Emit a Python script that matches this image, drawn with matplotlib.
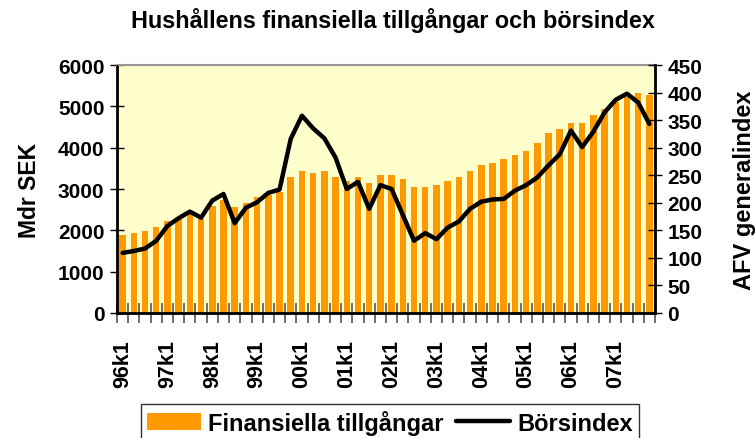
import matplotlib
matplotlib.use("Agg")
import matplotlib.pyplot as plt
import numpy as np

quarters = ["96k1","96k2","96k3","96k4","97k1","97k2","97k3","97k4",
            "98k1","98k2","98k3","98k4","99k1","99k2","99k3","99k4",
            "00k1","00k2","00k3","00k4","01k1","01k2","01k3","01k4",
            "02k1","02k2","02k3","02k4","03k1","03k2","03k3","03k4",
            "04k1","04k2","04k3","04k4","05k1","05k2","05k3","05k4",
            "06k1","06k2","06k3","06k4","07k1","07k2","07k3","07k4"]
tick_labels = ["96k1","97k1","98k1","99k1","00k1","01k1","02k1","03k1",
               "04k1","05k1","06k1","07k1"]
assets = [1890,1940,1980,2080,2230,2290,2420,2270,2600,2730,2570,2660,
          2810,2860,2920,3290,3440,3390,3440,3290,3190,3290,3150,3340,
          3340,3240,3050,3050,3100,3190,3290,3440,3580,3630,3730,3820,
          3920,4110,4360,4450,4600,4600,4790,4940,5100,5220,5320,5270]
borsindex = [109,112.5,117,131,158,172,184,173,204,216,163,191,
             201,218,224,316,358,335,317,282,225,238,189,232,
             225,178,131,145,134,155,166,189,202,206,207,222,
             232,246,268,288,331,301,329,364,387,398,382,343]

plt.rcParams['font.family'] = ['Liberation Sans', 'DejaVu Sans']
plt.rcParams['font.weight'] = 'bold'

fig = plt.figure(figsize=(7.55, 4.39), dpi=100)
ax = fig.add_axes([117/755, 1-314/439, (655-117)/755, (314-66)/439])
ax.set_facecolor('#FFFFCC')
x = np.arange(len(quarters))
bars = ax.bar(x, assets, width=0.58, color='#FF9900', label='Finansiella tillgångar', zorder=2)
ax.set_xlim(-0.5, len(quarters)-0.5)
ax.set_ylim(0, 6000)
ax.set_yticks(np.arange(0, 6001, 1000))
ax.tick_params(axis='y', direction='inout', length=10, width=1, labelsize=15, pad=4)
# x ticks: marks at boundaries, labels at first quarter
ax.set_xticks(np.arange(-0.5, len(quarters), 1))
ax.set_xticklabels([])
ax.tick_params(axis='x', which='major', direction='inout', length=14, width=1.2, color='#555555')
lab_pos = [quarters.index(t) for t in tick_labels]
ax.set_xticks(lab_pos, minor=True)
ax.set_xticklabels(tick_labels, minor=True, rotation=90, fontsize=15.5)
ax.tick_params(axis='x', which='minor', length=0, pad=19)
ax.set_ylabel('Mdr SEK', fontsize=16.5, fontweight='bold', labelpad=12)
for s in ['left', 'bottom']:
    ax.spines[s].set_linewidth(2)
ax.spines['top'].set_color('#999999')
ax.spines['top'].set_linewidth(1.5)

ax2 = ax.twinx()
line, = ax2.plot(x, borsindex, color='black', lw=3.2, solid_joinstyle='round',
                 solid_capstyle='round', label='Börsindex', zorder=3)
ax2.set_ylim(0, 450)
ax2.set_yticks(np.arange(0, 451, 50))
ax2.tick_params(axis='y', direction='inout', length=10, width=1, labelsize=15, pad=4)
ax2.spines['right'].set_linewidth(2)
ax2.spines['top'].set_visible(False)
ax2.set_ylabel('AFV generalindex', fontsize=17, fontweight='bold', labelpad=22)

fig.suptitle('Hushållens finansiella tillgångar och börsindex', fontsize=16.8,
             fontweight='bold', x=393/755, y=1-8/439, va='top')

leg = fig.legend([bars, line], ['Finansiella tillgångar', 'Börsindex'],
                 loc='upper left', bbox_to_anchor=(141/755, 1-405/439), ncol=2,
                 fancybox=False, frameon=True, edgecolor='black', fontsize=17,
                 handlelength=2.3, handleheight=0.75, handletextpad=0.3,
                 columnspacing=0.5, borderpad=0.25, borderaxespad=0)
leg.get_frame().set_linewidth(1)

fig.savefig('out.png', dpi=100)
